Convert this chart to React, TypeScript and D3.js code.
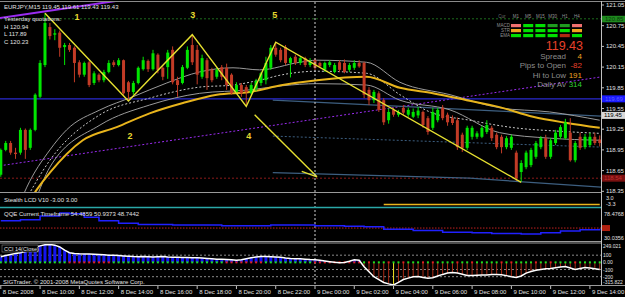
import React from 'react';
import * as d3 from 'd3';

// ---------- DATA ----------
const opens = [118.59,118.95,119.05,118.91,118.91,119.24,118.98,119.24,119.72,120.18,120.73,120.62,120.65,120.44,120.47,120.43,120.22,120.04,120.22,119.92,120.04,119.96,120.08,120.22,120.18,120.25,119.93,119.79,119.92,120.12,120.24,120.12,120.33,120.14,120.15,120.40,119.96,119.92,120.14,120.47,120.40,120.01,120.25,120.11,120.01,120.15,120.14,120.04,119.79,119.89,119.86,119.77,119.84,119.92,119.96,120.14,120.43,120.40,120.44,120.21,120.30,120.21,120.28,120.18,120.25,120.21,120.11,120.18,120.08,120.22,120.21,120.11,120.14,120.21,120.21,119.82,119.67,119.77,119.67,119.38,119.53,119.46,119.56,119.46,119.43,119.45,119.50,119.41,119.27,119.38,119.56,119.46,119.41,119.38,119.17,118.98,119.14,119.14,119.14,119.21,119.27,119.17,119.14,118.99,118.98,118.91,118.63,118.70,118.73,118.85,118.99,119.12,118.85,119.05,119.14,119.12,119.20,118.80,119.14,118.99,119.02,119.14,119.10];
const highs = [118.97,119.08,119.08,118.98,119.27,119.26,119.26,119.77,120.25,120.93,120.79,120.70,120.68,120.50,120.50,120.45,120.25,120.23,120.24,120.09,120.06,120.11,120.25,120.25,120.28,120.26,119.95,119.95,120.16,120.30,120.26,120.40,120.35,120.16,120.40,120.45,120.01,120.18,120.45,120.62,120.47,120.33,120.28,120.14,120.14,120.18,120.20,120.06,119.93,119.92,119.89,119.92,119.98,120.08,120.30,120.47,120.51,120.43,120.47,120.30,120.33,120.30,120.30,120.28,120.28,120.23,120.23,120.25,120.21,120.25,120.26,120.21,120.25,120.25,120.23,119.86,119.82,119.80,119.70,119.55,119.56,119.53,119.60,119.56,119.55,119.57,119.52,119.44,119.56,119.56,119.60,119.49,119.45,119.42,119.20,119.30,119.30,119.22,119.30,119.38,119.30,119.20,119.17,119.15,119.17,118.94,118.80,118.94,118.98,119.08,119.15,119.17,119.12,119.24,119.31,119.40,119.41,119.08,119.20,119.18,119.20,119.20,119.16];
const lows = [118.56,118.93,118.88,118.82,118.88,118.82,118.95,119.22,119.70,120.15,120.55,120.54,120.30,120.18,120.37,119.93,120.00,120.01,119.86,119.89,119.93,119.93,120.06,120.15,120.16,119.75,119.67,119.75,119.90,120.10,120.08,120.10,120.06,119.96,119.98,119.90,119.72,119.90,120.12,120.18,119.90,119.98,119.82,119.93,119.98,119.96,119.82,119.75,119.77,119.72,119.60,119.75,119.80,119.88,119.90,120.11,120.30,120.22,120.18,120.00,120.18,120.18,120.15,120.15,120.11,120.14,120.08,120.15,120.06,120.08,120.06,120.08,120.11,120.14,119.70,119.60,119.63,119.50,119.31,119.33,119.43,119.43,119.46,119.43,119.41,119.41,119.27,119.17,119.24,119.35,119.38,119.30,119.31,118.95,118.92,118.95,119.10,119.11,119.12,119.18,119.08,118.96,118.90,118.96,118.95,118.50,118.49,118.67,118.70,118.82,118.96,118.82,118.82,119.02,119.11,119.10,118.78,118.77,118.95,118.96,118.99,119.02,119.00];
const closes = [118.95,119.05,118.91,118.89,119.24,118.95,119.24,119.75,120.21,120.79,120.60,120.64,120.43,120.47,120.40,120.21,120.04,120.21,119.89,120.06,119.96,120.08,120.21,120.18,120.25,119.77,119.79,119.92,120.14,120.25,120.12,120.35,120.11,120.01,120.36,119.93,119.89,120.15,120.40,120.22,120.04,120.28,119.99,119.96,120.11,120.01,119.89,119.77,119.89,119.77,119.79,119.89,119.95,120.06,120.21,120.43,120.33,120.25,120.21,120.28,120.21,120.28,120.18,120.23,120.14,120.16,120.21,120.22,120.18,120.11,120.08,120.18,120.21,120.16,119.75,119.67,119.79,119.53,119.35,119.50,119.46,119.50,119.49,119.53,119.50,119.52,119.31,119.21,119.50,119.53,119.41,119.35,119.34,118.99,118.98,119.27,119.27,119.19,119.27,119.31,119.12,118.99,118.99,119.12,119.14,118.54,118.76,118.91,118.95,119.05,119.12,118.85,119.09,119.20,119.28,119.35,118.80,119.05,118.98,119.14,119.14,119.05,119.05];

const timeLabels = ['8 Dec 2008','8 Dec 10:00','8 Dec 12:00','8 Dec 14:00','8 Dec 16:00','8 Dec 18:00','8 Dec 20:00','8 Dec 22:00','9 Dec 00:00','9 Dec 02:00','9 Dec 04:00','9 Dec 06:00','9 Dec 08:00','9 Dec 10:00','9 Dec 12:00','9 Dec 14:00'];
const timeLabelBars = [0,8,16,24,32,40,48,56,64,72,80,88,96,104,112,120];
const priceTicks = [121.05,120.75,120.45,120.15,119.85,119.55,119.25,118.95,118.65,118.35];

// moving averages / bands: [bar index, price]
const goldMA = [[5.9,118.22],[7.3,118.37],[10,118.62],[16.7,119.09],[23.6,119.28],[30.3,119.48],[37.1,119.63],[44,119.75],[50.7,119.79],[57.4,119.89],[64.4,119.96],[74.5,120.01],[81.3,119.85],[88,119.77],[94.9,119.67],[101.6,119.57],[108.4,119.43],[115.3,119.34],[122,119.27]];
const upperBand = [[4,118.2],[5.3,118.41],[10,118.95],[13.4,119.24],[20.2,119.53],[26.9,119.72],[33.8,119.92],[40.5,120.08],[47.3,120.14],[52.7,120.11],[60.9,120.22],[64.4,120.25],[74.5,120.22],[81.3,119.93],[91.5,119.75],[101.6,119.56],[111.8,119.50],[122,119.38]];
const midBand = [[4.5,118.15],[10,118.8],[20.2,119.46],[30.3,119.70],[40.5,119.86],[47.3,119.89],[52.7,119.96],[57.4,120.04],[64.4,120.09],[74.5,120.06],[81.3,119.75],[87.4,119.50],[95.5,119.38],[104.7,119.27],[113.9,119.22],[122,119.19]];
const lowerBand = [[7,118.2],[10,118.70],[20.2,119.31],[30.3,119.60],[40.5,119.77],[50.7,119.82],[57.4,119.88],[64.4,119.91],[74.5,119.89],[81.3,119.67],[91.5,119.53],[101.6,119.20],[111.8,119.12],[122,119.09]];

const zigBars = [9,26,39,50,56,106];
const zigPrices = [120.93,119.66,120.62,119.58,120.51,118.48];
const waveLabels = ['1','2','3','4','5'];
const waveLabelPos = [[15.5,120.86],[26.3,119.14],[39.1,120.90],[50.5,119.14],[55.8,120.90]];
const arrowLine = [[51.7,119.46],[64.4,118.56]];
const arrowHead = [[61.3,118.64],[64.4,118.56]];

const purpleSolid = [[-0.2,120.86],[23.6,121.11]];
const purpleDotted = [[-0.2,118.72],[122.5,120.01]];
const steelLines = [
  [[55.4,119.67],[122.5,119.44]],
  [[55.4,118.62],[95.5,118.54],[122.5,118.41]],
];
const steelDotted = [[55.4,119.15],[122.5,118.99]];

const levelGreen = 120.85;
const levelBlue = 119.69;
const levelRed = 118.54;
const bidPrice = 119.45;

const quoteLines = ['Yesterday quotations:','H 120.94','L 117.89','C 120.23'];
const tfHeaders = ['M1','M5','M15','M30','H1','H4'];
const tfRows = ['MACD','STR','EMA'];
const tfColors = [
  ['#f07070','#00e000','#00e000','#1f9a1f','#1f9a1f','#f07070'],
  ['#f0a020','#00e000','#00e000','#00e000','#00e000','#f0a020'],
  ['#00e000','#00e000','#00e000','#00e000','#b02a10','#00e000'],
];
const infoLabels = ['Spread','Pips to Open','Hi to Low','Daily Av'];
const infoValues = ['4','-82','191','314'];
const infoColors = ['#f0a020','#e8402a','#f0a020','#30d030'];

const cci = [78,95,110,125,133,150,180,210,230,245,249,240,215,170,135,125,120,118,115,112,108,105,100,98,95,90,85,80,78,80,78,76,78,80,75,72,70,68,66,65,64,60,55,50,45,42,40,35,30,35,50,65,75,80,82,78,75,70,60,55,52,50,45,40,37,30,20,10,0,-5,-3,15,35,30,-60,-130,-200,-240,-280,-300,-315,-280,-240,-220,-200,-196,-210,-223,-215,-190,-168,-150,-141,-150,-165,-182,-185,-180,-178,-175,-170,-168,-172,-185,-200,-210,-190,-150,-127,-110,-100,-90,-86,-75,-65,-59,-80,-100,-85,-73,-80,-90,-100];
const cciDots = 'gggggggggggggg' + 'rrrrrrrrr' + 'ggggggggggggggggggggggg' + 'rrrrrrrr' + 'gggggggggg' + 'rrrrrrrrrr' + 'grgggrggrgggrgrggggrggrgggggrgrggggrggrggggrgggg' + 'g';
const cciTicks = [249.021,100,0,-100,-200,-315.822];
const cciTickLabels = ['249.021','100','0.00','-100','-200','-315.822'];

const qqe = [[0,62],[4,64],[8,70],[12,75],[14,74],[17,68],[20,62],[24,58],[28,56],[35,55],[45,54],[55,55],[64,54],[70,53],[74,52],[78,48],[84,46],[90,43],[96,42],[100,41],[106,40],[110,42],[114,45],[118,47],[122,49]];
const qqeTicks = [78.4768,30.0356];
const stealthYellow = [78,122];

// ---------- COMPONENT ----------
export default function App() {
  const x = d3.scaleLinear().domain([0, 64]).range([0.8, 315]);
  const y = d3.scaleLinear().domain([118.35, 121.05]).range([191.3, 5]);
  const yQ = d3.scaleLinear().domain([30.0356, 78.4768]).range([240, 211]);
  const yC = d3.scaleLinear().domain([-315.822, 249.021]).range([285, 244.5]);

  const line = d3.line<number[]>().x(d => x(d[0])).y(d => y(d[1]));
  const smooth = d3.line<number[]>().x(d => x(d[0])).y(d => y(d[1])).curve(d3.curveMonotoneX);
  const qLine = d3.line<number[]>().x(d => x(d[0])).y(d => yQ(d[1])).curve(d3.curveStepAfter);
  const cLine = d3.line<number>().x((d, i) => x(i)).y(d => yC(d));

  const font = 'Arial, "Liberation Sans", sans-serif';
  const green = '#00e600';
  const red = '#c23b26';
  const zigPts = zigBars.map((b, i) => [b, zigPrices[i]]);
  const dots = cciDots.split('');
  const sepX = x(64);

  return (
    <svg width={625} height={297} style={{ position: 'absolute', left: 0, top: 0, background: '#000' }} fontFamily={font}>
      <rect width={625} height={297} fill="#000" />
      <defs>
        <clipPath id="main"><rect x={0} y={2} width={601} height={190} /></clipPath>
        <clipPath id="cci"><rect x={0} y={244} width={601} height={41} /></clipPath>
      </defs>

      {/* frame */}
      <line x1={0} x2={625} y1={1.5} y2={1.5} stroke="#8a8a8a" />
      <line x1={601.5} x2={601.5} y1={1} y2={286} stroke="#c0c0c0" />

      {/* main panel */}
      <g clipPath="url(#main)">
        <line x1={0} x2={601} y1={y(levelGreen)} y2={y(levelGreen)} stroke="#1d6b1d" strokeDasharray="2,2" />
        <line x1={0} x2={601} y1={y(levelRed)} y2={y(levelRed)} stroke="#8a1a1a" strokeDasharray="2,2" />
        <path d={line(purpleDotted)!} stroke="#9a2cf0" strokeDasharray="2,2" fill="none" />
        <path d={line(purpleSolid)!} stroke="#9a2cf0" strokeWidth={2} fill="none" />
        {steelLines.map((l, i) => <path key={i} d={line(l)!} stroke="#3d5f80" strokeWidth={1.2} fill="none" />)}
        <path d={line(steelDotted)!} stroke="#3d5f80" strokeDasharray="2,2" fill="none" />
        <line x1={0} x2={601} y1={y(levelBlue)} y2={y(levelBlue)} stroke="#2a2ad0" strokeWidth={1.2} />
        <path d={smooth(upperBand)!} stroke="#9a9a9a" fill="none" />
        <path d={smooth(midBand)!} stroke="#c8c8c8" strokeDasharray="2,2" fill="none" />
        <path d={smooth(lowerBand)!} stroke="#9a9a9a" fill="none" />
        <path d={smooth(goldMA)!} stroke="#e8b41c" strokeWidth={2} fill="none" />

        {opens.map((o, i) => {
          const c = closes[i];
          const col = c >= o ? green : red;
          const top = y(Math.max(o, c));
          const bot = y(Math.min(o, c));
          return (
            <g key={i}>
              <line x1={x(i)} x2={x(i)} y1={y(highs[i])} y2={y(lows[i])} stroke={col} />
              <rect x={x(i) - 1.5} y={top} width={3} height={Math.max(1, bot - top)} fill={col} />
            </g>
          );
        })}

        <path d={line(zigPts)!} stroke="#e6e030" strokeWidth={1.4} fill="none" />
        <path d={line(arrowLine)!} stroke="#e6e030" strokeWidth={1.4} fill="none" />
        <path d={line(arrowHead)!} stroke="#e6e030" strokeWidth={1.4} fill="none" />
        {waveLabels.map((t, i) => (
          <text key={t} x={x(waveLabelPos[i][0])} y={y(waveLabelPos[i][1])} fill="#e6d830" fontSize={9} fontWeight="bold" textAnchor="middle" dominantBaseline="middle">{t}</text>
        ))}
      </g>

      {/* day separator */}
      <line x1={sepX} x2={sepX} y1={2} y2={286} stroke="#d0d0d0" strokeDasharray="2,2" />

      {/* top-left info */}
      <text x={4} y={8.5} fill="#e0e0e0" fontSize={6}>EURJPY,M15  119.45 119.61 119.43 119.43</text>
      {quoteLines.map((t, i) => (
        <text key={i} x={4} y={21 + i * 7.5} fill="#e0e0e0" fontSize={6}>{t}</text>
      ))}

      {/* top-right dashboard */}
      <text x={502} y={18} fill="#707070" fontSize={4.5} textAnchor="middle">Cur</text>
      {tfHeaders.map((h, j) => (
        <text key={h} x={516 + j * 12.2} y={18} fill="#909090" fontSize={4.5} textAnchor="middle">{h}</text>
      ))}
      {tfRows.map((r, k) => (
        <g key={r}>
          <text x={510} y={27 + k * 5} fill="#909090" fontSize={4.5} textAnchor="end">{r}</text>
          {tfColors[k].map((c, j) => (
            <rect key={j} x={511 + j * 12.2} y={24 + k * 5} width={10} height={3.2} fill={c} />
          ))}
        </g>
      ))}
      <text x={583} y={50} fill="#e8402a" fontSize={12.5} textAnchor="end">119.43</text>
      {infoLabels.map((t, i) => (
        <g key={t}>
          <text x={566} y={59 + i * 9.3} fill="#8c8c8c" fontSize={8} textAnchor="end">{t}</text>
          <text x={582} y={59 + i * 9.3} fill={infoColors[i]} fontSize={8} textAnchor="end">{infoValues[i]}</text>
        </g>
      ))}

      {/* price axis */}
      {priceTicks.map(p => (
        <g key={p}>
          <line x1={601} x2={604} y1={y(p)} y2={y(p)} stroke="#c0c0c0" />
          <text x={606} y={y(p) + 2} fill="#e0e0e0" fontSize={6}>{p.toFixed(2)}</text>
        </g>
      ))}
      <rect x={602} y={y(levelGreen) - 3} width={23} height={6.5} fill="#1e8a1e" />
      <text x={605} y={y(levelGreen) + 2} fill="#0a3a0a" fontSize={6}>{levelGreen.toFixed(2)}</text>
      <rect x={602} y={y(levelBlue) - 3.5} width={23} height={7} fill="#1a1aff" />
      <text x={605} y={y(levelBlue) + 2} fill="#6060ff" fontSize={6}>{levelBlue.toFixed(2)}</text>
      <rect x={602} y={y(bidPrice) - 3.5} width={23} height={7} fill="#d8d8d8" />
      <text x={604} y={y(bidPrice) + 2} fill="#000" fontSize={6}>{bidPrice.toFixed(2)}</text>
      <rect x={602} y={y(levelRed) - 3.5} width={23} height={7} fill="#7a1010" />
      <text x={604} y={y(levelRed) + 2} fill="#c03030" fontSize={6}>{levelRed.toFixed(2)}</text>

      {/* separators */}
      <line x1={0} x2={601} y1={192.5} y2={192.5} stroke="#9a9a9a" />
      <line x1={0} x2={601} y1={207.5} y2={207.5} stroke="#2aa8a8" strokeWidth={1.5} />
      <line x1={0} x2={601} y1={241.5} y2={241.5} stroke="#9a9a9a" />
      <line x1={0} x2={601} y1={243} y2={243} stroke="#9a9a9a" />
      <line x1={0} x2={625} y1={285.5} y2={285.5} stroke="#9a9a9a" />

      {/* stealth LCD */}
      <text x={4} y={202} fill="#e0e0e0" fontSize={6}>Stealth LCD V10 -3.00 3.00</text>
      <line x1={x(stealthYellow[0])} x2={x(stealthYellow[1])} y1={204.5} y2={204.5} stroke="#e8b41c" strokeWidth={1.5} />
      <text x={606} y={200} fill="#e0e0e0" fontSize={5.5}>3.0</text>
      <text x={606} y={206} fill="#e0e0e0" fontSize={5.5}>-3.3</text>

      {/* QQE */}
      <line x1={0} x2={601} y1={yQ(50)} y2={yQ(50)} stroke="#c02020" strokeDasharray="1.5,1.5" />
      <path d={qLine(qqe)!} stroke="#2020ff" strokeWidth={1.5} fill="none" />
      <text x={4} y={216} fill="#e0e0e0" fontSize={6}>QQE Current Timeframe 54.4859 50.9373 48.7442</text>
      {qqeTicks.map(t => (
        <text key={t} x={604} y={yQ(t) + 4.5 - (t > 50 ? 0 : 5)} fill="#e0e0e0" fontSize={5.5}>{t}</text>
      ))}
      <rect x={602} y={yQ(50) - 3} width={8} height={6} fill="#b02010" />

      {/* CCI */}
      <g clipPath="url(#cci)">
        {[100, -100, -200].map(v => (
          <line key={v} x1={0} x2={601} y1={yC(v)} y2={yC(v)} stroke="#8a8a8a" strokeDasharray="2,2" />
        ))}
        {cci.map((v, i) => (
          <rect key={i} x={v >= 0 ? x(i) - 1.5 : x(i) - 0.5} width={v >= 0 ? 3 : 1}
            y={Math.min(yC(v), yC(0))} height={Math.abs(yC(v) - yC(0))}
            fill={i === 80 ? '#f0e020' : v >= 0 ? '#1414f0' : '#a82a14'} />
        ))}
        {dots.map((d, i) => (
          <rect key={i} x={x(i) - 1} y={yC(0) - 1} width={2} height={2} fill={d === 'g' ? '#20e020' : '#e02020'} />
        ))}
        <path d={cLine(cci)!} stroke="#ffffff" strokeWidth={1.5} fill="none" />
      </g>
      <rect x={2} y={245} width={36} height={7} fill="#000" stroke="#9a9a9a" strokeWidth={0.5} />
      <text x={4} y={250.5} fill="#e0e0e0" fontSize={5.5}>CCI 14(Close)</text>
      {cciTicks.map((t, i) => {
        const yy = Math.max(247.5, Math.min(283.5, yC(t) + 2));
        return <text key={t} x={603} y={yy} fill="#e0e0e0" fontSize={5}>{cciTickLabels[i]}</text>;
      })}
      <text x={3} y={283.5} fill="#e0e0e0" fontSize={6}>SIGTrader. © 2001-2008 MetaQuotes Software Corp.</text>

      {/* time axis */}
      {timeLabels.map((t, i) => (
        <g key={t}>
          <line x1={x(timeLabelBars[i])} x2={x(timeLabelBars[i])} y1={286} y2={289} stroke="#c0c0c0" />
          <text x={x(timeLabelBars[i]) + 2} y={294} fill="#e0e0e0" fontSize={6}>{t}</text>
        </g>
      ))}
    </svg>
  );
}
